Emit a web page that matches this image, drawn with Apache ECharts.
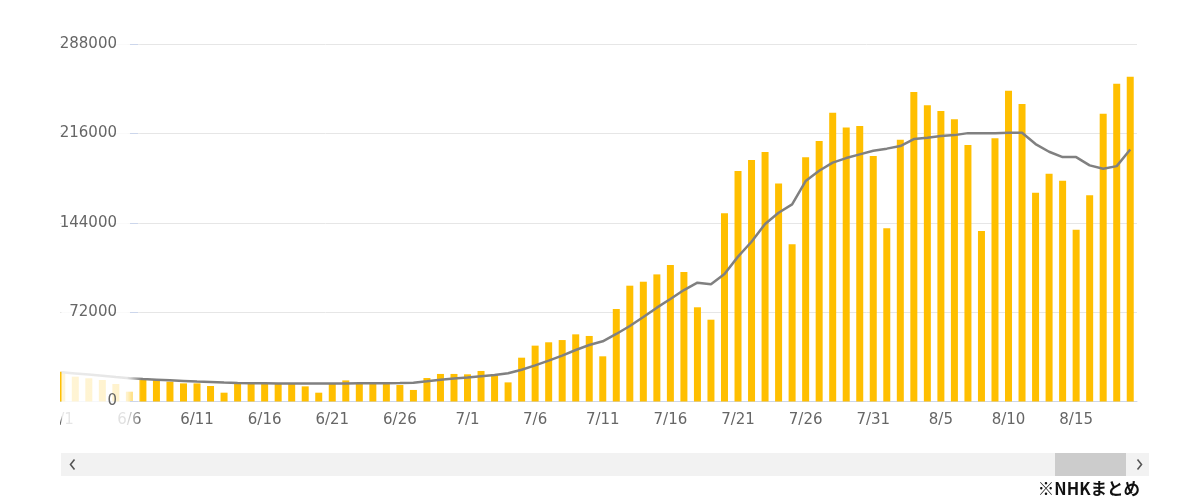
<!DOCTYPE html>
<html>
<head>
<meta charset="utf-8">
<script src="https://cdn.jsdelivr.net/npm/echarts@6/dist/echarts.min.js"></script>
<style>
html,body{margin:0;padding:0;background:#fff;}
#chart{width:1200px;height:503px;}
</style>
</head>
<body>
<div id="chart"></div>
<script>
// Categories (dates)
var dates = [
 '6/1','6/2','6/3','6/4','6/5','6/6','6/7','6/8','6/9','6/10',
 '6/11','6/12','6/13','6/14','6/15','6/16','6/17','6/18','6/19','6/20',
 '6/21','6/22','6/23','6/24','6/25','6/26','6/27','6/28','6/29','6/30',
 '7/1','7/2','7/3','7/4','7/5','7/6','7/7','7/8','7/9','7/10',
 '7/11','7/12','7/13','7/14','7/15','7/16','7/17','7/18','7/19','7/20',
 '7/21','7/22','7/23','7/24','7/25','7/26','7/27','7/28','7/29','7/30','7/31',
 '8/1','8/2','8/3','8/4','8/5','8/6','8/7','8/8','8/9','8/10',
 '8/11','8/12','8/13','8/14','8/15','8/16','8/17','8/18','8/19'
];
// Daily new cases
var casesJune = [24000,20000,18700,17300,14100,7900,17300,17300,16000,14600,
 14600,12500,7100,14100,14100,14100,14100,14100,12200,7100,
 14100,17000,14100,14100,14100,13300,9300,18900,22200,22200];
var casesJuly = [21900,24600,21100,15400,35300,45000,47700,49500,54100,52800,
 36400,74500,93300,96500,102400,110000,104300,75900,65900,151600,
 185700,194500,201000,175700,126600,196700,209800,232700,220800,221900,197700];
var casesAug = [139500,210900,249300,238600,234000,227300,206600,137300,212000,250400,
 239600,168200,183500,177900,138400,166100,231900,256000,261700];
// 7-day average
var avgJune = [23500,22600,21700,20800,19700,18700,18100,17600,17100,16600,
 16100,15700,15300,15000,14800,14700,14600,14600,14500,14500,
 14500,14600,14700,14700,14800,14900,15200,16300,17600,18500];
var avgJuly = [19300,20300,21300,22700,25600,29100,32900,36900,41500,45500,
 48500,54400,60800,68100,75600,82600,89800,95700,94400,102700,
 116700,128700,143000,152100,158800,177600,185900,192400,196100,199100,202000];
var avgAug = [203700,205800,211400,212500,213800,214600,216200,216200,216200,216500,
 216500,207400,201200,196900,196900,190200,187500,189600,203000];
// Y ticks
var yMin = 0, yMax = 288000, yStep = 72000;

var cases = casesJune.concat(casesJuly, casesAug);
var avg = avgJune.concat(avgJuly, avgAug);

var chart = echarts.init(document.getElementById('chart'), null, {renderer:'canvas'});
var FONT = 'DejaVu Sans';
chart.setOption({
  animation: false,
  backgroundColor: '#ffffff',
  grid: {left: 55, right: 63, top: 44, bottom: 101.5, containLabel: false},
  xAxis: {
    type: 'category',
    data: dates,
    z: 0,
    axisLine: {show: true, lineStyle: {color: '#ccd6eb', width: 1}},
    axisTick: {show: false},
    axisLabel: {interval: 4, color: '#666666', fontSize: 15, fontFamily: FONT, margin: 11}
  },
  yAxis: [{
    type: 'value', min: yMin, max: yMax, interval: yStep, z: 0,
    axisLine: {show: false}, axisTick: {show: false}, axisLabel: {show: false},
    splitLine: {show: true, lineStyle: {color: '#e6e6e6', width: 1}}
  }, {
    type: 'value', min: yMin, max: yMax, interval: yStep, z: 10,
    position: 'left', offset: -75,
    axisLine: {show: false},
    axisTick: {show: true, inside: true, length: 8, lineStyle: {color: '#ccd6eb', width: 1}},
    splitLine: {show: false},
    axisLabel: {color: '#666666', fontSize: 15, fontFamily: FONT, margin: 13,
      formatter: function (v) { return String(v); }}
  }],
  series: [{
    type: 'bar',
    data: cases,
    barWidth: 7,
    itemStyle: {color: '#ffbf00'},
    z: 2
  }, {
    type: 'line',
    data: avg,
    showSymbol: false,
    symbol: 'none',
    lineStyle: {color: '#808080', width: 2.5},
    z: 3
  }],
  graphic: [
    {type: 'rect', z: 6, shape: {x: 0, y: 0, width: 60, height: 440}, style: {fill: '#ffffff'}},
    {type: 'rect', z: 5, shape: {x: 61.5, y: 20, width: 80, height: 420},
     style: {fill: new echarts.graphic.LinearGradient(0, 0, 1, 0, [
       {offset: 0, color: 'rgba(255,255,255,0.84)'},
       {offset: 0.82, color: 'rgba(255,255,255,0.8)'},
       {offset: 1, color: 'rgba(255,255,255,0)'}
     ])}},
    {type: 'rect', z: 20, shape: {x: 61, y: 453, width: 1088, height: 23}, style: {fill: '#f2f2f2'}},
    {type: 'rect', z: 21, shape: {x: 1055, y: 453, width: 71, height: 23}, style: {fill: '#cccccc'}},
    {type: 'polyline', z: 22, shape: {points: [[74.5,459.5],[70.5,464.5],[74.5,469.5]]}, style: {stroke: '#555555', lineWidth: 1.6, fill: null}},
    {type: 'polyline', z: 22, shape: {points: [[1137.5,459.5],[1141.5,464.5],[1137.5,469.5]]}, style: {stroke: '#555555', lineWidth: 1.6, fill: null}},
    {type: 'text', z: 22, style: {text: '※NHKまとめ', x: 1140, y: 489, align: 'right', verticalAlign: 'middle',
      fill: '#111111', font: 'bold 16.5px "Noto Sans CJK JP", "DejaVu Sans", sans-serif'}}
  ]
});
</script>
</body>
</html>
